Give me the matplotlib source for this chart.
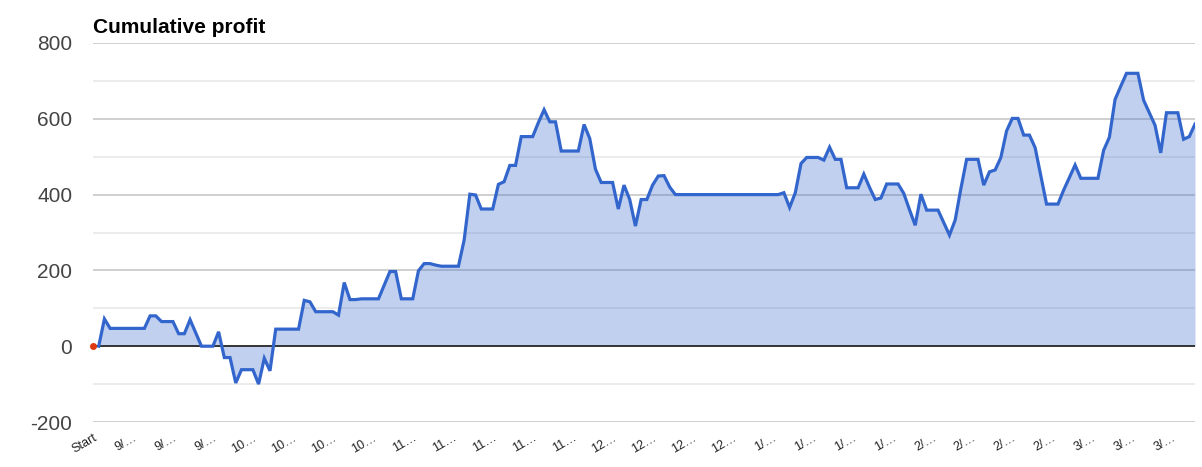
import numpy as np
import matplotlib
matplotlib.use("Agg")
import matplotlib.pyplot as plt

plt.rcParams['font.family'] = ['Liberation Sans', 'DejaVu Sans']
plt.rcParams['axes.unicode_minus'] = False

# cumulative profit per trade (first slot is the "Start" point)
profit = [np.nan, 0, 72, 47, 47, 47, 47, 47, 47, 47,
          80, 80, 65, 65, 65, 33, 33, 70, 35, 0,
          0, 0, 38, -30, -30, -97, -62, -62, -62, -100,
          -32, -65, 45, 45, 45, 45, 45, 121, 117, 91,
          91, 91, 91, 82, 168, 123, 123, 125, 125, 125,
          125, 161, 197, 197, 125, 125, 125, 199, 218, 218,
          214, 211, 211, 211, 211, 280, 401, 399, 362, 362,
          362, 427, 434, 477, 477, 553, 553, 553, 590, 624,
          592, 592, 515, 515, 515, 515, 585, 548, 467, 432,
          432, 432, 362, 425, 387, 317, 387, 387, 425, 449,
          450, 420, 400, 400, 400, 400, 400, 400, 400, 400,
          400, 400, 400, 400, 400, 400, 400, 400, 400, 400,
          400, 405, 366, 405, 482, 498, 498, 498, 491, 525,
          493, 493, 418, 418, 418, 454, 419, 387, 391, 428,
          428, 428, 403, 360, 319, 401, 359, 359, 359, 326,
          293, 333, 416, 493, 493, 493, 425, 460, 465, 498,
          568, 601, 601, 557, 557, 524, 450, 375, 375, 375,
          412, 445, 478, 443, 443, 443, 443, 517, 551, 651,
          686, 720, 720, 720, 649, 616, 583, 510, 616, 616,
          616, 546, 553, 586]
start_value = 0

tick_labels = ['Start', '9/…', '9/…', '9/…', '10…', '10…', '10…', '10…',
               '11…', '11…', '11…', '11…', '11…', '12…', '12…', '12…', '12…',
               '1/…', '1/…', '1/…', '1/…', '2/…', '2/…', '2/…', '2/…',
               '3/…', '3/…', '3/…']
tick_step = 7

W, H = 1202, 467
fig = plt.figure(figsize=(W / 100, H / 100), dpi=100)
ax = fig.add_axes([93 / W, 1 - 422 / H, (1195 - 93) / W, (422 - 43) / H])

x = np.arange(len(profit))
y = np.array(profit, dtype=float)

# gridlines
for v in range(-200, 801, 100):
    if v == 0:
        continue
    col = '#cccccc' if v % 200 == 0 else '#ebebeb'
    ax.axhline(v, color=col, lw=1.3, zorder=0)
ax.axhline(0, color='#333333', lw=1.4, zorder=3)

ax.fill_between(x, y, 0, color='#3366cc', alpha=0.3, lw=0, zorder=1)
ax.plot(x, y, color='#3366cc', lw=2.3, zorder=4, solid_joinstyle='miter')
ax.plot([0], [start_value], 'o', color='#dc3912', ms=4, zorder=5, clip_on=False)

ax.set_xlim(0, len(profit) - 1)
ax.set_ylim(-200, 800)
ax.set_yticks(range(-200, 801, 200))
ax.tick_params(axis='y', length=0, pad=15, labelsize=15, labelcolor='#444444')

ticks = list(range(0, len(profit), tick_step))[:len(tick_labels)]
ax.set_xticks(ticks)
ax.set_xticklabels(tick_labels, rotation=30, ha='right', rotation_mode='anchor')
ax.tick_params(axis='x', length=0, pad=7, labelsize=9, labelcolor='#222222')

for s in ax.spines.values():
    s.set_visible(False)

fig.text(93 / W, 1 - 33 / H, 'Cumulative profit', fontsize=15, fontweight='bold',
         color='#000000', va='baseline', ha='left')

fig.savefig('out.png', dpi=100)
